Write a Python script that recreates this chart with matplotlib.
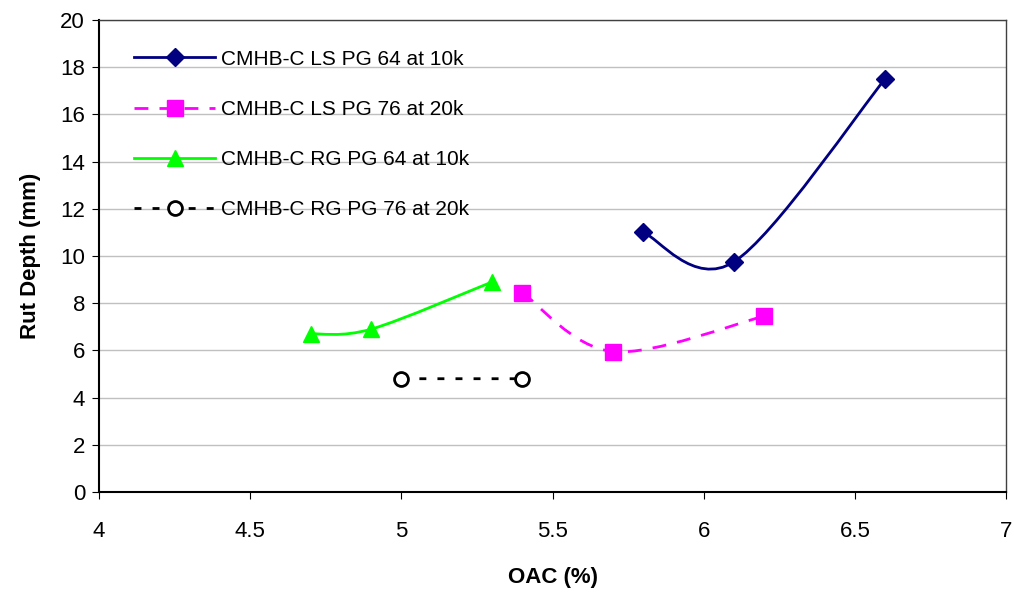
import numpy as np
import matplotlib
matplotlib.use('Agg')
import matplotlib.pyplot as plt
from matplotlib.path import Path
from matplotlib.patches import PathPatch
from matplotlib.lines import Line2D

plt.rcParams['font.family'] = ['Liberation Sans', 'DejaVu Sans']

# data
ls64_x = [5.8, 6.1, 6.6]
ls64_y = [11.0, 9.75, 17.5]
ls76_x = [5.4, 5.7, 6.2]
ls76_y = [8.45, 5.95, 7.45]
rg64_x = [4.7, 4.9, 5.3]
rg64_y = [6.7, 6.9, 8.9]
rg76_x = [5.0, 5.4]
rg76_y = [4.8, 4.8]

labels = ['CMHB-C LS PG 64 at 10k', 'CMHB-C LS PG 76 at 20k',
          'CMHB-C RG PG 64 at 10k', 'CMHB-C RG PG 76 at 20k']


def smooth_path(xs, ys):
    # Excel-like smoothed line: cubic bezier through the points
    p = np.column_stack([xs, ys]).astype(float)
    n = len(p)
    verts = [p[0]]
    codes = [Path.MOVETO]
    for i in range(n - 1):
        p0 = p[i - 1] if i > 0 else p[i]
        p3 = p[i + 2] if i + 2 < n else p[i + 1]
        c1 = p[i] + (p[i + 1] - p0) / 6.0
        c2 = p[i + 1] - (p3 - p[i]) / 6.0
        verts += [c1, c2, p[i + 1]]
        codes += [Path.CURVE4] * 3
    return Path(verts, codes)


fig = plt.figure(figsize=(10.14, 5.95), dpi=100)
ax = fig.add_axes([99 / 1014, 1 - 492 / 595, 907 / 1014, 472 / 595])

series = [
    (ls64_x, ls64_y, '#000080', '-', 'D', '#000080', 9),
    (ls76_x, ls76_y, '#FF00FF', (0, (5, 4)), 's', '#FF00FF', 11),
    (rg64_x, rg64_y, '#00FF00', '-', '^', '#00FF00', 11),
    (rg76_x, rg76_y, '#000000', (0, (2.5, 4)), 'o', 'white', 10),
]

handles = []
for (xs, ys, col, ls, mk, mfc, ms), lab in zip(series, labels):
    patch = PathPatch(smooth_path(xs, ys), facecolor='none', edgecolor=col,
                      linewidth=2, linestyle=ls, zorder=3)
    ax.add_patch(patch)
    ax.plot(xs, ys, linestyle='none', marker=mk, markersize=ms,
            markerfacecolor=mfc, markeredgecolor=col if mfc != 'white' else 'black',
            markeredgewidth=2 if mfc == 'white' else 1, zorder=4)
    handles.append(Line2D([], [], color=col, linestyle=ls, linewidth=2,
                          marker=mk, markersize=ms, markerfacecolor=mfc,
                          markeredgecolor=col if mfc != 'white' else 'black',
                          markeredgewidth=2 if mfc == 'white' else 1))

ax.set_xlim(4, 7)
ax.set_ylim(0, 20)
ax.set_xticks(np.arange(4, 7.01, 0.5))
ax.set_xticklabels(['4', '4.5', '5', '5.5', '6', '6.5', '7'])
ax.set_yticks(np.arange(0, 21, 2))
ax.yaxis.grid(True, color='#c0c0c0', linewidth=1)
ax.set_axisbelow(True)
ax.tick_params(axis='x', direction='out', length=5, pad=16, labelsize=16)
ax.tick_params(axis='y', direction='out', length=5, pad=5, labelsize=16)
for s in ['left', 'bottom']:
    ax.spines[s].set_linewidth(1.5)
    ax.spines[s].set_color('black')
for s in ['top', 'right']:
    ax.spines[s].set_linewidth(1)
    ax.spines[s].set_color('#404040')

ax.set_xlabel('OAC (%)', fontsize=16, fontweight='bold', labelpad=18)
ax.set_ylabel('Rut Depth (mm)', fontsize=16, fontweight='bold', labelpad=14)

ax.legend(handles, labels, loc='upper left', bbox_to_anchor=(0.018, 0.977),
          frameon=False, fontsize=15, handlelength=3.9, handletextpad=0.25,
          labelspacing=1.5)

fig.savefig('out.png', dpi=100)
